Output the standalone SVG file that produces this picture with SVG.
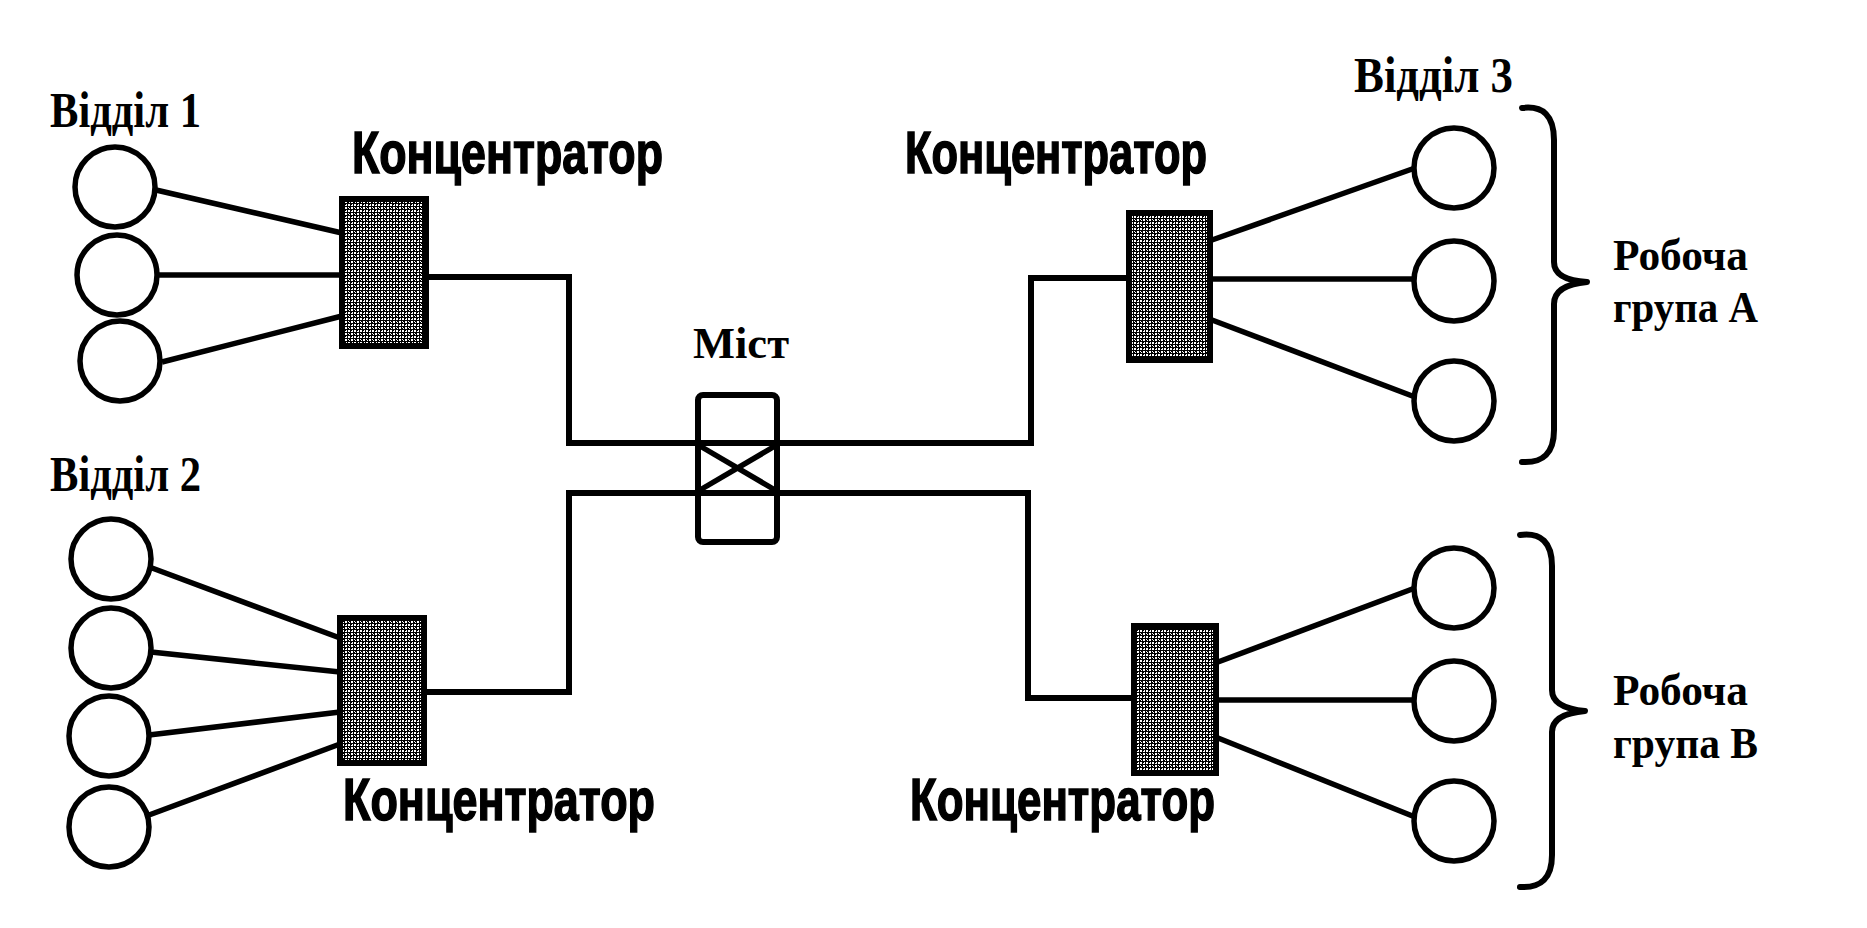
<svg xmlns="http://www.w3.org/2000/svg" width="1867" height="928" viewBox="0 0 1867 928">
<style>
.bg{fill:#fff}
.pc{fill:#fff;stroke:#000;stroke-width:5.5}
.ln{fill:none;stroke:#000;stroke-width:5.5;stroke-linecap:butt}
.cn{fill:none;stroke:#000;stroke-width:6;stroke-linejoin:miter}
.hub{fill:url(#stip);stroke:#000;stroke-width:6}
.br{fill:none;stroke:#000;stroke-width:6;stroke-linecap:round;stroke-linejoin:round}
.ser{font-family:"Liberation Serif","Times New Roman",serif;font-weight:bold;fill:#000}
.san{font-family:"Liberation Sans Narrow","Liberation Sans",Arial,sans-serif;font-weight:bold;fill:#000;stroke:#000;stroke-width:1.6}
</style>
<defs>
<pattern id="stip" width="6" height="6" patternUnits="userSpaceOnUse">
<rect width="6" height="6" fill="#000"/>
<rect x="0" y="0" width="2" height="2" fill="#fff"/>
<rect x="3" y="3" width="2" height="2" fill="#fff"/>
<rect x="4" y="0" width="1" height="2" fill="#fff"/>
<rect x="1" y="4" width="1" height="1" fill="#fff"/>
<rect x="3" y="1" width="1" height="1" fill="#fff"/>
<rect x="0" y="3" width="1" height="1" fill="#fff"/>
</pattern>
</defs>
<rect class="bg" x="0" y="0" width="1867" height="928"/>

<g id="connectors">
<!-- Dept 1 -->
<line class="ln" x1="156" y1="190" x2="342" y2="233"/>
<line class="ln" x1="158" y1="275" x2="342" y2="275"/>
<line class="ln" x1="162" y1="362" x2="342" y2="316"/>
<!-- Dept 2 -->
<line class="ln" x1="152" y1="568" x2="340" y2="638"/>
<line class="ln" x1="151" y1="652" x2="340" y2="672"/>
<line class="ln" x1="149" y1="735" x2="340" y2="712"/>
<line class="ln" x1="149" y1="815" x2="340" y2="744"/>
<!-- Group A -->
<line class="ln" x1="1212" y1="240" x2="1415" y2="168"/>
<line class="ln" x1="1212" y1="279" x2="1415" y2="279"/>
<line class="ln" x1="1212" y1="320" x2="1415" y2="397"/>
<!-- Group B -->
<line class="ln" x1="1218" y1="662" x2="1415" y2="588"/>
<line class="ln" x1="1218" y1="700" x2="1415" y2="700"/>
<line class="ln" x1="1218" y1="738" x2="1415" y2="817"/>
<!-- backbone -->
<polyline class="cn" points="429,277 569,277 569,443 1031,443 1031,278 1126,278"/>
<polyline class="cn" points="426,692 569,692 569,493 1028,493 1028,698 1131,698"/>
</g>

<g id="dept1">
<text class="ser" x="50" y="127" font-size="50" textLength="151" lengthAdjust="spacingAndGlyphs">Відділ 1</text>
<circle class="pc" cx="115" cy="187" r="40"/>
<circle class="pc" cx="117" cy="275" r="40"/>
<circle class="pc" cx="120" cy="361" r="40"/>
</g>
<g id="hub1">
<rect class="hub" x="342" y="199" width="84" height="147"/>
<text class="san" x="352" y="173" font-size="60" textLength="311" lengthAdjust="spacingAndGlyphs">Концентратор</text>
</g>

<g id="dept2">
<text class="ser" x="50" y="491" font-size="50" textLength="151" lengthAdjust="spacingAndGlyphs">Відділ 2</text>
<circle class="pc" cx="111" cy="559" r="40"/>
<circle class="pc" cx="111" cy="648" r="40"/>
<circle class="pc" cx="109" cy="736" r="40"/>
<circle class="pc" cx="109" cy="827" r="40"/>
</g>
<g id="hub2">
<rect class="hub" x="340" y="618" width="84" height="145"/>
<text class="san" x="343" y="820" font-size="60" textLength="312" lengthAdjust="spacingAndGlyphs">Концентратор</text>
</g>

<g id="bridge">
<text class="ser" x="693" y="358" font-size="45" textLength="96" lengthAdjust="spacingAndGlyphs">Міст</text>
<rect x="698" y="395" width="79" height="147" rx="5" fill="none" stroke="#000" stroke-width="6"/>
<line class="ln" x1="700" y1="446" x2="775" y2="490"/>
<line class="ln" x1="775" y1="446" x2="700" y2="490"/>
</g>

<g id="hub3">
<rect class="hub" x="1129" y="213" width="81" height="147"/>
<text class="san" x="905" y="173" font-size="60" textLength="302" lengthAdjust="spacingAndGlyphs">Концентратор</text>
</g>
<g id="groupA">
<text class="ser" x="1354" y="92" font-size="50" textLength="159" lengthAdjust="spacingAndGlyphs">Відділ 3</text>
<circle class="pc" cx="1454" cy="168" r="40"/>
<circle class="pc" cx="1454" cy="281" r="40"/>
<circle class="pc" cx="1454" cy="401" r="40"/>
<path class="br" d="M1522,108 Q1554,104 1554,140 L1554,262 Q1554,280 1587,282 Q1554,285 1554,304 L1554,430 Q1554,464 1522,462"/>
<text class="ser" x="1613" y="270" font-size="44" textLength="135" lengthAdjust="spacingAndGlyphs">Робоча</text>
<text class="ser" x="1613" y="322" font-size="44" textLength="145" lengthAdjust="spacingAndGlyphs">група А</text>
</g>

<g id="hub4">
<rect class="hub" x="1134" y="626" width="82" height="147"/>
<text class="san" x="910" y="820" font-size="60" textLength="305" lengthAdjust="spacingAndGlyphs">Концентратор</text>
</g>
<g id="groupB">
<circle class="pc" cx="1454" cy="588" r="40"/>
<circle class="pc" cx="1454" cy="701" r="40"/>
<circle class="pc" cx="1454" cy="821" r="40"/>
<path class="br" d="M1520,535 Q1552,531 1552,566 L1552,690 Q1552,708 1585,711 Q1552,714 1552,732 L1552,855 Q1552,889 1520,887"/>
<text class="ser" x="1613" y="705" font-size="44" textLength="135" lengthAdjust="spacingAndGlyphs">Робоча</text>
<text class="ser" x="1613" y="758" font-size="44" textLength="145" lengthAdjust="spacingAndGlyphs">група В</text>
</g>
</svg>
